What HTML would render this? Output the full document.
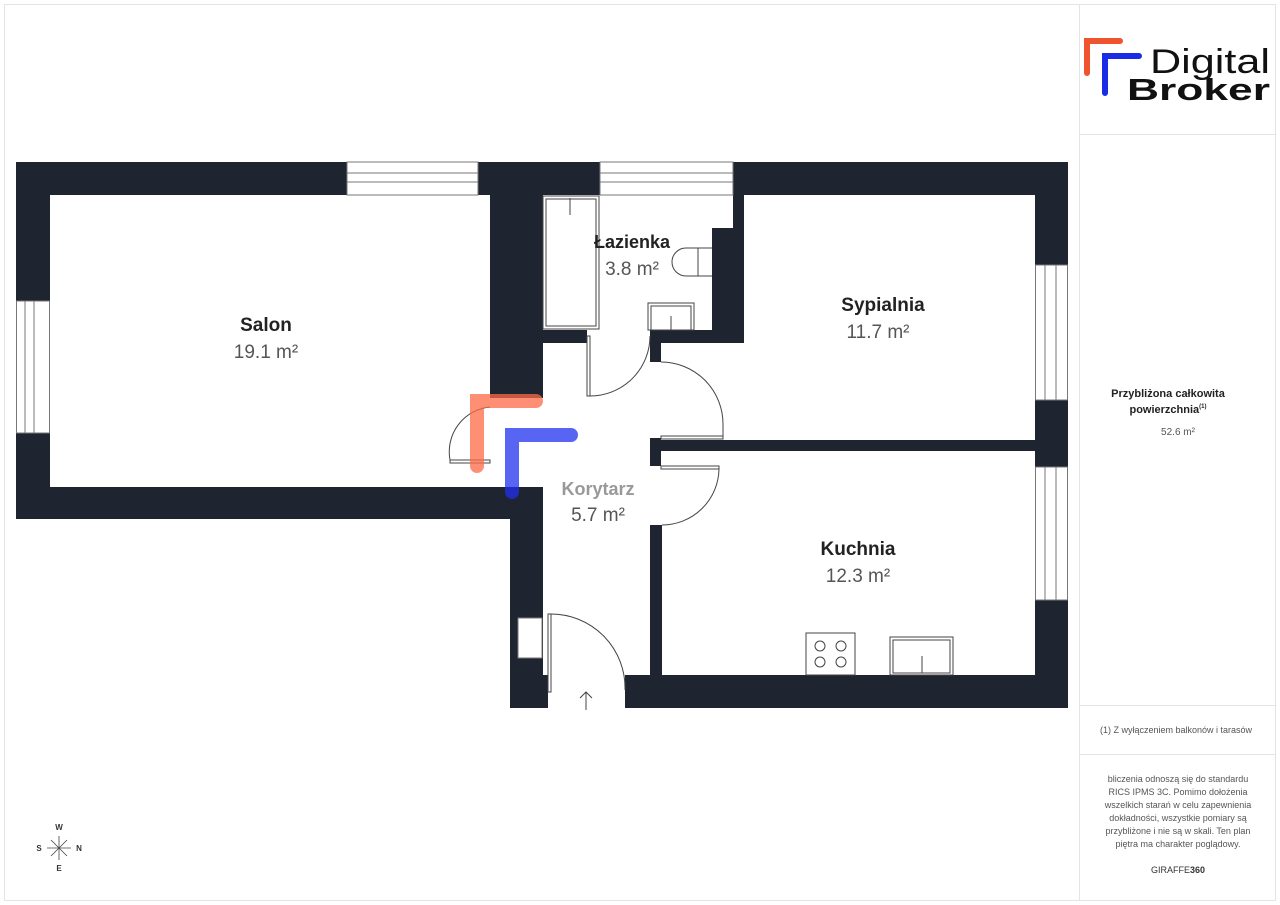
<!DOCTYPE html>
<html><head><meta charset="utf-8"><style>
html,body{margin:0;padding:0;background:#fff;}
body{width:1280px;height:905px;overflow:hidden;position:relative;font-family:"Liberation Sans",sans-serif;}
</style></head><body>
<svg width="1280" height="905" viewBox="0 0 1280 905" xmlns="http://www.w3.org/2000/svg" style="position:absolute;left:0;top:0">
<rect x="4.5" y="4.5" width="1271" height="896" fill="none" stroke="#e4e4e4"/>
<line x1="1079.5" y1="4" x2="1079.5" y2="900" stroke="#e4e4e4"/>
<line x1="1079" y1="134.5" x2="1276" y2="134.5" stroke="#e4e4e4"/>
<line x1="1079" y1="705.5" x2="1276" y2="705.5" stroke="#e4e4e4"/>
<line x1="1079" y1="754.5" x2="1276" y2="754.5" stroke="#e4e4e4"/>
<g fill="#1e2430">
<rect x="16" y="162" width="1052" height="33"/>
<rect x="16" y="162" width="34" height="357"/>
<rect x="16" y="487" width="527" height="32"/>
<rect x="490" y="162" width="53" height="236"/>
<rect x="510" y="487" width="33" height="221"/>
<rect x="543" y="330" width="44" height="13"/>
<rect x="650" y="330" width="94" height="13"/>
<rect x="733" y="195" width="11" height="148"/>
<rect x="712" y="228" width="32" height="115"/>
<rect x="650" y="343" width="11" height="19"/>
<rect x="650" y="438" width="11" height="28"/>
<rect x="650" y="525" width="12" height="183"/>
<rect x="650" y="440" width="390" height="11"/>
<rect x="1035" y="162" width="33" height="546"/>
<rect x="625" y="675" width="443" height="33"/>
<rect x="510" y="675" width="38" height="33"/>
</g>
<g fill="#fff" stroke="#777" stroke-width="1">
<rect x="347" y="162" width="131" height="33"/>
<rect x="600" y="162" width="133" height="33"/>
<rect x="16.5" y="301" width="33" height="132"/>
<rect x="1035.5" y="265" width="32" height="135"/>
<rect x="1035.5" y="467" width="32" height="133"/>
<rect x="518" y="618" width="24" height="40"/>
</g>
<g stroke="#777" stroke-width="1">
<line x1="347" y1="173" x2="478" y2="173"/><line x1="347" y1="182" x2="478" y2="182"/>
<line x1="600" y1="173" x2="733" y2="173"/><line x1="600" y1="182" x2="733" y2="182"/>
<line x1="25" y1="301" x2="25" y2="433"/><line x1="34" y1="301" x2="34" y2="433"/>
<line x1="1045" y1="265" x2="1045" y2="400"/><line x1="1056" y1="265" x2="1056" y2="400"/>
<line x1="1045" y1="467" x2="1045" y2="600"/><line x1="1056" y1="467" x2="1056" y2="600"/>
</g>
<g fill="none" stroke="#444" stroke-width="1">
<rect x="543" y="196" width="56" height="133"/><rect x="546" y="199" width="50" height="127"/>
<line x1="570" y1="198" x2="570" y2="215"/>
<path d="M712 248 H686 A14 14 0 0 0 686 276 H712"/><line x1="698" y1="248" x2="698" y2="276"/>
<rect x="648" y="303" width="46" height="27"/><rect x="651" y="306" width="40" height="24"/><line x1="671" y1="316" x2="671" y2="330"/>
<rect x="587" y="336" width="3" height="60"/><path d="M590 396 A60 60 0 0 0 650 336"/>
<path d="M661 362 A62 62 0 0 1 723 424 V438"/><rect x="661" y="436" width="62" height="3"/>
<rect x="661" y="466" width="58" height="3"/><path d="M719 469 A57 57 0 0 1 662 525"/>
<rect x="450" y="460" width="40" height="3"/><path d="M450 460 A45 45 0 0 1 490 407"/>
<rect x="548" y="614" width="3" height="78"/><path d="M551 614 A74 74 0 0 1 625 690"/>
<path d="M586 710 V692 M580 698 L586 692 L592 698"/>
<rect x="806" y="633" width="49" height="42"/>
<circle cx="820" cy="646" r="5"/><circle cx="841" cy="646" r="5"/><circle cx="820" cy="662" r="5"/><circle cx="841" cy="662" r="5"/>
<rect x="890" y="637" width="63" height="38"/><rect x="893" y="640" width="57" height="33"/><line x1="922" y1="656" x2="922" y2="673"/>
</g>
<path d="M477 466 V401 H536" fill="none" stroke="#ff6a45" stroke-opacity="0.75" stroke-width="14" stroke-linecap="round"/>
<path d="M512 492 V435 H571" fill="none" stroke="#2030ee" stroke-opacity="0.75" stroke-width="14" stroke-linecap="round"/>
<g font-family="Liberation Sans,sans-serif" fill="#222" text-anchor="middle">
<text x="266" y="331" font-size="19" font-weight="bold">Salon</text>
<text x="266" y="358" font-size="19" fill="#555">19.1 m²</text>
<text x="632" y="248" font-size="18" font-weight="bold">Łazienka</text>
<text x="632" y="275" font-size="19" fill="#555">3.8 m²</text>
<text x="883" y="311" font-size="19" font-weight="bold">Sypialnia</text>
<text x="878" y="338" font-size="19" fill="#555">11.7 m²</text>
<text x="598" y="495" font-size="18" font-weight="bold" fill="#999">Korytarz</text>
<text x="598" y="521" font-size="19" fill="#555">5.7 m²</text>
<text x="858" y="555" font-size="19" font-weight="bold">Kuchnia</text>
<text x="858" y="582" font-size="19" fill="#555">12.3 m²</text>
<text x="1168" y="397" font-size="11" font-weight="bold">Przybliżona całkowita</text>
<text x="1168" y="413" font-size="11" font-weight="bold">powierzchnia<tspan font-size="6" dy="-5">(1)</tspan></text>
<text x="1178" y="435" font-size="10" fill="#555">52.6 m²</text>
<text x="1176" y="733" font-size="9" fill="#555">(1) Z wyłączeniem balkonów i tarasów</text>
<g font-size="9" fill="#555">
<text x="1178" y="782">bliczenia odnoszą się do standardu</text>
<text x="1178" y="795">RICS IPMS 3C. Pomimo dołożenia</text>
<text x="1178" y="808">wszelkich starań w celu zapewnienia</text>
<text x="1178" y="821">dokładności, wszystkie pomiary są</text>
<text x="1178" y="834">przybliżone i nie są w skali. Ten plan</text>
<text x="1178" y="847">piętra ma charakter poglądowy.</text>
<text x="1178" y="873" fill="#333">GIRAFFE<tspan font-weight="bold">360</tspan></text>
</g>
<g font-size="8" font-weight="bold" fill="#333">
<text x="59" y="830">W</text><text x="59" y="871">E</text><text x="39" y="851">S</text><text x="79" y="851">N</text>
</g>
</g>
<g stroke="#444" stroke-width="0.8"><line x1="47" y1="848" x2="71" y2="848"/><line x1="59" y1="836" x2="59" y2="860"/><line x1="51" y1="840" x2="67" y2="856"/><line x1="67" y1="840" x2="51" y2="856"/></g>
<path d="M1087 73 V41 H1120" fill="none" stroke="#f0542e" stroke-width="6" stroke-linecap="round"/>
<path d="M1105 93 V56 H1139" fill="none" stroke="#1a2ce6" stroke-width="6" stroke-linecap="round"/>
<text x="1150" y="73" font-family="Liberation Sans,sans-serif" font-size="34" fill="#111" textLength="120" lengthAdjust="spacingAndGlyphs">Digital</text>
<text x="1127" y="100" font-family="Liberation Sans,sans-serif" font-size="31" font-weight="bold" fill="#111" textLength="143" lengthAdjust="spacingAndGlyphs">Broker</text>
</svg>
</body></html>
